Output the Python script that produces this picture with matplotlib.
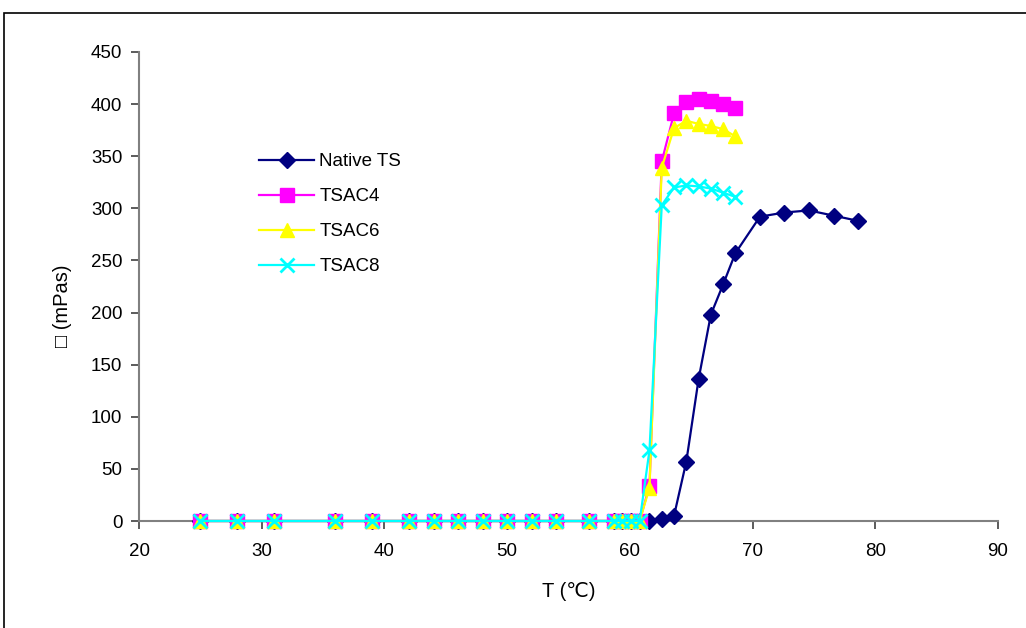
import numpy as np
import matplotlib
matplotlib.use('Agg')
import matplotlib.pyplot as plt
from matplotlib.patches import Rectangle

plt.rcParams['font.family'] = ['Liberation Sans', 'DejaVu Sans']

# temperatures (°C)
T_low = [25, 28, 31, 36, 39, 42, 44, 46, 48, 50, 52, 54, 56.7, 58.7, 59.4, 60.1, 60.8]
T_tsac = [61.6, 62.6, 63.6, 64.6, 65.6, 66.6, 67.6, 68.6]
T_native = [61.6, 62.6, 63.6, 64.6, 65.6, 66.6, 67.6, 68.6, 70.6, 72.6, 74.6, 76.6, 78.6]

# viscosity (mPas)
native_ts = [0, 2, 5, 57, 136, 198, 227, 257, 292, 296, 298, 293, 288]
tsac4 = [34, 345, 391, 402, 405, 403, 400, 396]
tsac6 = [32, 339, 377, 384, 381, 379, 376, 369]
tsac8 = [68, 303, 320, 322, 321, 319, 315, 311]
low = [0] * len(T_low)

fig = plt.figure(figsize=(10.26, 6.28), dpi=100)
ax = fig.add_axes([139/1026, 1 - 521/628, 859/1026, 469/628])

ax.plot(T_low + T_native, low + native_ts, color='#000080', lw=1.6,
        marker='D', ms=8.5, label='Native TS', clip_on=False, zorder=3)
ax.plot(T_low + T_tsac, low + tsac4, color='#FF00FF', lw=1.6,
        marker='s', ms=10, label='TSAC4', clip_on=False, zorder=4)
ax.plot(T_low + T_tsac, low + tsac6, color='#FFFF00', lw=1.6,
        marker='^', ms=10, label='TSAC6', clip_on=False, zorder=5)
ax.plot(T_low + T_tsac, low + tsac8, color='#00FFFF', lw=1.6,
        marker='x', ms=10, mew=2, label='TSAC8', clip_on=False, zorder=6)

ax.set_xlim(20, 90)
ax.set_ylim(0, 450)
ax.set_xticks(np.arange(20, 91, 10))
ax.set_yticks(np.arange(0, 451, 50))
ax.spines['top'].set_visible(False)
ax.spines['right'].set_visible(False)
for s in ['left', 'bottom']:
    ax.spines[s].set_color('#808080')
    ax.spines[s].set_linewidth(1.5)
ax.tick_params(axis='both', direction='out', length=6, width=1.2,
               color='#404040', labelsize=13.5)
ax.tick_params(axis='x', pad=10)
ax.tick_params(axis='y', pad=6)

ax.set_xlabel('T (\u2103)', fontsize=14.5, labelpad=16)
ax.set_ylabel('\u25a1 (mPas)', fontsize=14.5)
ax.yaxis.set_label_coords(-0.078, 0.46)

ax.legend(loc='upper left', bbox_to_anchor=(250/1026, 1 - 144/628),
          bbox_transform=fig.transFigure, frameon=False, fontsize=13.5,
          handlelength=2.9, handletextpad=0.3, labelspacing=0.95,
          borderpad=0)

fig.patches.append(Rectangle((4/1026, -0.05), 1.1, 1 - 13/628 + 0.05,
                             transform=fig.transFigure, fill=False,
                             edgecolor='black', lw=1.2))

fig.savefig('out.png', dpi=100)
